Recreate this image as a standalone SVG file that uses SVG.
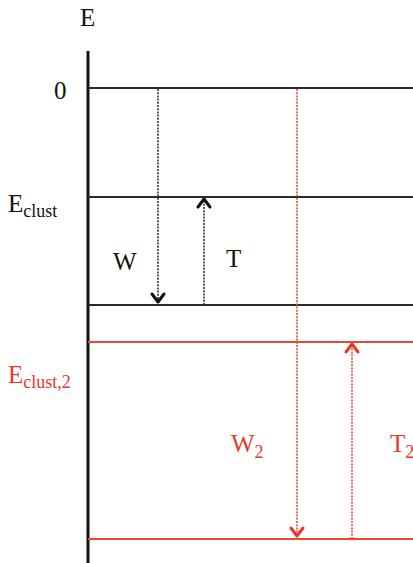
<svg xmlns="http://www.w3.org/2000/svg" width="413" height="563" viewBox="0 0 413 563">
<style>
text{font-family:"Liberation Serif","Times New Roman",serif;font-size:25px;fill:#111}
.s{font-size:18px}
.r{fill:#e6392b}
.lv{stroke:#2a2a2a;stroke-width:2;fill:none}
.lvr{stroke:#e84a3a;stroke-width:2;fill:none}
.dk{stroke:#333;stroke-width:1.6;stroke-dasharray:2 1.2;fill:none}
.dr{stroke:#e84a3a;stroke-width:1.6;stroke-dasharray:2 1.2;fill:none}
.hk{stroke:#111;stroke-width:3;fill:none;stroke-linecap:round;stroke-linejoin:round}
.hr{stroke:#e6392b;stroke-width:3;fill:none;stroke-linecap:round;stroke-linejoin:round}
</style>
<rect width="413" height="563" fill="#fff"/>
<g id="axis">
<line x1="88" y1="51" x2="88" y2="563" stroke="#111" stroke-width="3"/>
<text x="80" y="26">E</text>
</g>
<g id="level-0">
<line class="lv" x1="88" y1="88" x2="413" y2="88" stroke-width="2.6"/>
<text x="54" y="99">0</text>
</g>
<g id="level-eclust">
<line class="lv" x1="88" y1="197" x2="413" y2="197"/>
<text x="8" y="212">E<tspan class="s" dy="5">clust</tspan></text>
</g>
<g id="level-low">
<line class="lv" x1="88" y1="305" x2="413" y2="305"/>
</g>
<g id="level-eclust2">
<line class="lvr" x1="88" y1="342" x2="413" y2="342"/>
<text class="r" x="8" y="383">E<tspan class="s" dy="5">clust,2</tspan></text>
</g>
<g id="level-bottom">
<line class="lvr" x1="88" y1="539" x2="413" y2="539"/>
</g>
<g id="connectors">
<line class="dk" x1="158" y1="89" x2="158" y2="303"/>
<polyline class="hk" points="152,294 158,302 164,294"/>
<line class="dk" x1="204" y1="305" x2="204" y2="199"/>
<polyline class="hk" points="198,207 204,199 210,207"/>
<line class="dr" x1="297" y1="89" x2="297" y2="537"/>
<polyline class="hr" points="291,528 297,536 303,528"/>
<line class="dr" x1="352" y1="539" x2="352" y2="344"/>
<polyline class="hr" points="346,352 352,344 358,352"/>
</g>
<g id="labels">
<text x="113" y="270">W</text>
<text x="226" y="267">T</text>
<text class="r" x="231" y="452">W<tspan class="s" dy="6">2</tspan></text>
<text class="r" x="390" y="452">T<tspan class="s" dy="6">2</tspan></text>
</g>
</svg>
